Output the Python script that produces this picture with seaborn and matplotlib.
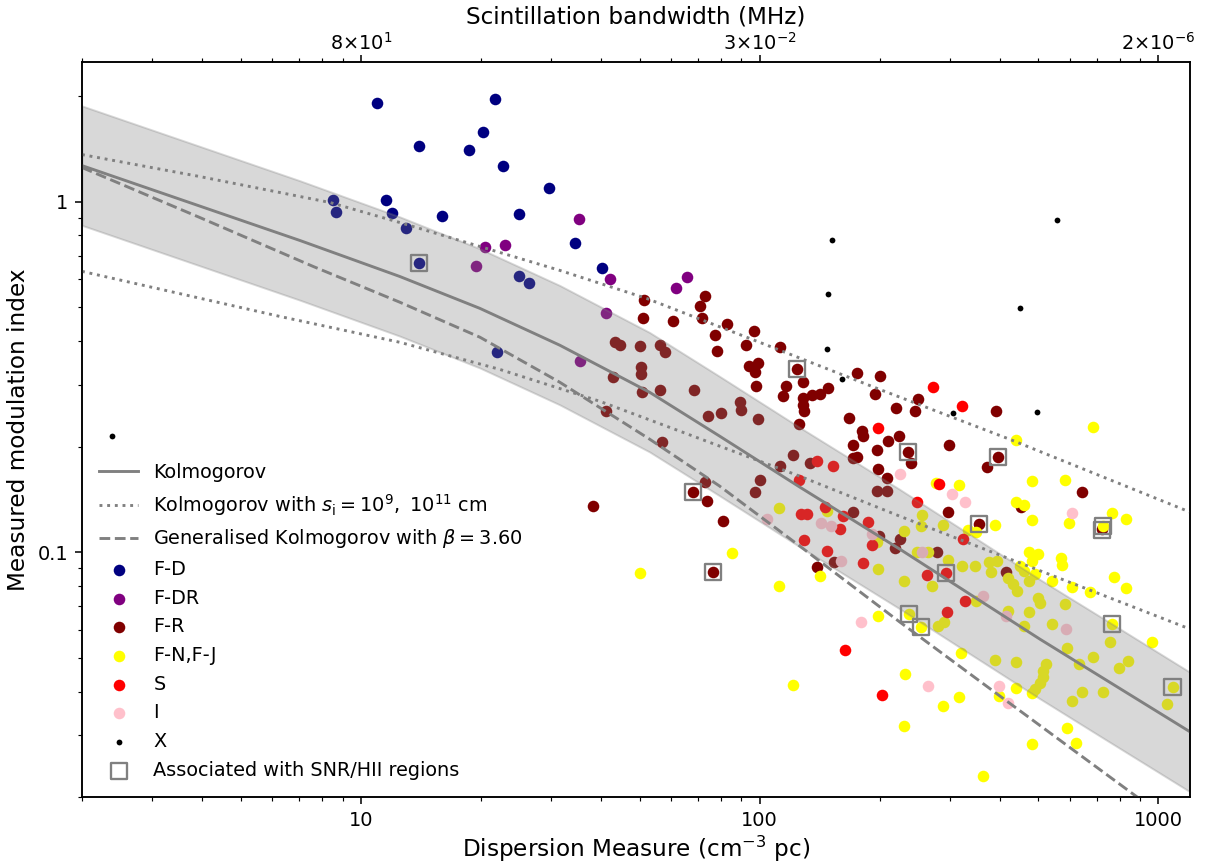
import numpy as np
import pandas as pd
import seaborn as sns
import matplotlib.pyplot as plt
from matplotlib.ticker import NullFormatter

# model curves
kol_dm = [2.0, 7.04, 12.53, 19.9, 31.56, 53.0, 79.4, 126.1, 224.4, 503.5, 711.8, 1200]
kol_m = [1.266, 0.774, 0.611, 0.4955, 0.389, 0.2856, 0.2141, 0.1532, 0.102, 0.0565, 0.0443, 0.0307]
band_hi = [1.874, 1.146, 0.904, 0.733, 0.576, 0.423, 0.317, 0.2267, 0.151, 0.0836, 0.0656, 0.0454]
band_lo = [0.855, 0.523, 0.413, 0.335, 0.263, 0.193, 0.1447, 0.1035, 0.0689, 0.0382, 0.0299, 0.0207]

si_hi_dm = [2.0, 3.95, 8.37, 12.53, 19.9, 31.56, 52.1, 100, 200, 423, 1200]
si_hi_m = [1.361, 1.178, 0.9935, 0.871, 0.744, 0.636, 0.529, 0.3966, 0.291, 0.2099, 0.130]
si_lo_dm = [2.0, 6.27, 12.53, 22.3, 39.7, 63.1, 126.1, 224.4, 1200]
si_lo_m = [0.632, 0.470, 0.3966, 0.332, 0.2693, 0.2212, 0.1646, 0.1266, 0.0603]

gen_dm = [2.0, 3.95, 7.59, 12.53, 19.9, 31.56, 53.0, 79.4, 126.1, 224.4, 399.6, 923]
gen_m = [1.25, 0.900, 0.653, 0.516, 0.410, 0.305, 0.2099, 0.1542, 0.104, 0.0632, 0.0389, 0.0193]

# pulsars by class
fd_dm = [8.51, 8.66, 10.97, 11.56, 11.96, 12.97, 13.99, 13.99, 15.97, 18.66,
         20.23, 21.68, 22.71, 24.9, 24.9, 26.38, 29.62, 34.4, 40.2, 21.93]
fd_m = [1.007, 0.936, 1.915, 1.007, 0.930, 0.838, 1.444, 0.666, 0.912, 1.398,
        1.582, 1.965, 1.266, 0.924, 0.615, 0.584, 1.096, 0.759, 0.648, 0.371]

fdr_dm = [19.43, 20.46, 22.96, 35.2, 42.1, 61.6, 65.6, 41.1, 35.4]
fdr_m = [0.653, 0.744, 0.749, 0.889, 0.603, 0.565, 0.611, 0.480, 0.350]

fr_dm = [51.2, 50.9, 60.6, 72.9, 70.8, 71.6, 82.7, 77.2, 96.7, 78.1,
         92.3, 112.3, 93.9, 98.9, 97.2, 123.9, 128.2, 97.8, 116.3, 114.3,
         128.2, 135.1, 141.5, 148.2, 128.2, 129.0, 175.2, 194.3, 200.0, 125.3,
         167.3, 180.3, 181.3, 171.2, 175.2, 171.2, 196.6, 197.7, 43.3, 44.6,
         50.1, 56.2, 57.8, 50.4, 50.4, 42.8, 50.7, 56.2, 68.4, 89.2,
         89.7, 79.9, 74.1, 98.9, 41.1, 56.8, 121.1, 133.5, 112.3, 100.1,
         97.2, 72.9, 68.0, 73.7, 38.2, 80.8, 76.3, 219.4, 244.8, 249.1,
         209.4, 223.2, 235.1, 239.2, 208.2, 196.6, 208.2, 171.2, 224.4, 218.0,
         198.9, 153.4, 139.0, 278.0, 297.8, 395.3, 370.9, 641.8, 296.2, 354.1,
         451.3, 414.0, 720.3, 390.7]
fr_m = [0.522, 0.464, 0.455, 0.536, 0.502, 0.464, 0.446, 0.415, 0.426, 0.374,
        0.389, 0.384, 0.339, 0.346, 0.326, 0.332, 0.305, 0.297, 0.297, 0.278,
        0.275, 0.280, 0.282, 0.293, 0.262, 0.252, 0.324, 0.282, 0.317, 0.232,
        0.241, 0.221, 0.214, 0.202, 0.187, 0.185, 0.195, 0.172, 0.397, 0.389,
        0.386, 0.389, 0.371, 0.337, 0.322, 0.315, 0.286, 0.289, 0.289, 0.268,
        0.254, 0.249, 0.244, 0.239, 0.252, 0.206, 0.189, 0.179, 0.176, 0.160,
        0.148, 0.158, 0.148, 0.140, 0.135, 0.123, 0.0877, 0.257, 0.252, 0.273,
        0.207, 0.214, 0.193, 0.179, 0.163, 0.149, 0.149, 0.130, 0.109, 0.103,
        0.111, 0.0937, 0.0907, 0.100, 0.202, 0.187, 0.175, 0.148, 0.130, 0.120,
        0.134, 0.0877, 0.116, 0.252]

fnj_dm = [438.6, 276.4, 315.5, 480.9, 581.8, 438.6, 459.2, 480.9, 595.3, 763.1,
          827.0, 388.4, 724.4, 332.4, 348.1, 472.7, 497.8, 568.5, 571.6, 480.9,
          771.9, 827.0, 605.8, 672.0, 539.8, 255.0, 253.5, 287.8, 229.8, 247.6,
          263.9, 296.2, 321.0, 346.1, 375.2, 392.9, 379.6, 448.7, 459.2, 472.7,
          489.3, 418.8, 431.0, 441.0, 229.8, 270.0, 348.1, 497.8, 503.6, 581.8,
          418.8, 472.7, 236.4, 253.5, 279.6, 289.4, 539.8, 459.2, 763.1, 231.1,
          319.2, 961.2, 754.2, 836.7, 794.3, 683.7, 630.6, 588.5, 388.4, 438.6,
          521.5, 512.4, 512.4, 503.6, 489.3, 480.9, 438.6, 397.5, 641.8, 724.4,
          605.8, 1085, 1048, 315.5, 287.8, 229.8, 588.5, 619.8, 480.9, 362.5,
          683.7, 111.9, 147.3, 85.1, 111.9, 141.5, 50.1, 196.6, 197.7, 197.7,
          121.1]
fnj_m = [0.2085, 0.1573, 0.1552, 0.1594, 0.1604, 0.1388, 0.1361, 0.1234, 0.121, 0.1291,
         0.1242, 0.1194, 0.1186, 0.1155, 0.114, 0.1, 0.0987, 0.0961, 0.0918, 0.0943,
         0.0849, 0.079, 0.0795, 0.0769, 0.0827, 0.1274, 0.1186, 0.1194, 0.1148, 0.1,
         0.1, 0.0949, 0.0912, 0.0912, 0.0937, 0.0943, 0.0877, 0.0912, 0.0883, 0.0827,
         0.0866, 0.0843, 0.0811, 0.0774, 0.0827, 0.08, 0.0725, 0.0739, 0.0716, 0.0711,
         0.0679, 0.0675, 0.0666, 0.0611, 0.0615, 0.0632, 0.0624, 0.0615, 0.0624, 0.0449,
         0.0516, 0.0554, 0.0554, 0.0489, 0.0467, 0.0502, 0.048, 0.0533, 0.0492, 0.0486,
         0.048, 0.0458, 0.044, 0.0423, 0.0407, 0.0397, 0.041, 0.0389, 0.0399, 0.0399,
         0.0376, 0.0412, 0.0369, 0.0386, 0.0364, 0.0319, 0.0315, 0.0286, 0.0284, 0.023,
         0.227, 0.1334, 0.1308, 0.0994, 0.08, 0.0854, 0.0872, 0.1068, 0.0895, 0.0657,
         0.0418]

s_dm = [271.6, 321.0, 197.7, 139.0, 152.5, 125.3, 247.6, 281.2, 145.6, 126.8,
        131.2, 161.5, 186.6, 158.7, 129.0, 147.3, 191.0, 181.3, 262.4, 322.9,
        292.7, 326.6, 294.4, 163.4, 202.3]
s_m = [0.295, 0.261, 0.226, 0.182, 0.176, 0.160, 0.139, 0.156, 0.134, 0.128,
       0.128, 0.127, 0.122, 0.116, 0.108, 0.101, 0.105, 0.093, 0.086, 0.109,
       0.0872, 0.0725, 0.0675, 0.0526, 0.0391]

i_dm = [224.4, 104.2, 142.3, 150.8, 159.7, 191.0, 255.0, 303.1, 326.6, 605.8,
        362.5, 414.0, 585.2, 179.3, 263.9, 397.5, 418.8]
i_m = [0.167, 0.124, 0.121, 0.119, 0.0943, 0.1125, 0.100, 0.146, 0.139, 0.129,
       0.0749, 0.0657, 0.0603, 0.0632, 0.0415, 0.0415, 0.0371]

x_dm = [2.38, 151.7, 148.2, 147.3, 160.6, 304.8, 495.1, 448.7, 555.5]
x_m = [0.214, 0.779, 0.543, 0.379, 0.311, 0.249, 0.251, 0.496, 0.883]

assoc_dm = [13.99, 123.9, 68.0, 76.3, 235.1, 395.3, 354.1, 720.3, 724.4, 292.7,
            236.4, 253.5, 763.1, 1085]
assoc_m = [0.666, 0.332, 0.148, 0.0877, 0.193, 0.187, 0.120, 0.1155, 0.1186, 0.0872,
           0.0666, 0.0611, 0.0624, 0.0412]

xticks = [10, 100, 1000]
xticklabels = ['10', '100', '1000']
yticks = [0.1, 1]
yticklabels = ['0.1', '1']
top_labels = [r'$8{\times}10^{1}$', r'$3{\times}10^{-2}$', r'$2{\times}10^{-6}$']

classes = [
    ('F-D', fd_dm, fd_m, 'navy', 36),
    ('F-DR', fdr_dm, fdr_m, 'purple', 36),
    ('F-R', fr_dm, fr_m, 'maroon', 36),
    ('F-N,F-J', fnj_dm, fnj_m, 'yellow', 36),
    ('S', s_dm, s_m, 'red', 36),
    ('I', i_dm, i_m, 'pink', 36),
    ('X', x_dm, x_m, 'black', 9),
]

fig = plt.figure(figsize=(8.712, 6.216), dpi=139)
ax = fig.add_axes([0.0677, 0.0775, 0.915, 0.8507])
ax.set_xscale('log')
ax.set_yscale('log')

for name, dm, m, col, size in classes:
    df = pd.DataFrame({'dm': dm, 'm': m})
    sns.scatterplot(data=df, x='dm', y='m', color=col, s=size, linewidth=0,
                    label=name, ax=ax, zorder=1)

ax.fill_between(kol_dm, band_lo, band_hi, color='grey', alpha=0.3, zorder=2.5)

sns.lineplot(x=kol_dm, y=kol_m, color='grey', lw=1.5, label='Kolmogorov',
             estimator=None, sort=False, ax=ax, zorder=3)
sns.lineplot(x=si_hi_dm, y=si_hi_m, color='grey', lw=1.5, ls=':',
             label=r'Kolmogorov with $s_\mathrm{i} = 10^9,\ 10^{11}$ cm',
             estimator=None, sort=False, ax=ax, zorder=3)
sns.lineplot(x=si_lo_dm, y=si_lo_m, color='grey', lw=1.5, ls=':',
             estimator=None, sort=False, ax=ax, zorder=3)
sns.lineplot(x=gen_dm, y=gen_m, color='grey', lw=1.5, ls='--',
             label=r'Generalised Kolmogorov with $\beta = 3.60$',
             estimator=None, sort=False, ax=ax, zorder=3)

ax.scatter(assoc_dm, assoc_m, marker='s', s=70, facecolors='none',
           edgecolors='grey', linewidths=1.2, zorder=4,
           label='Associated with SNR/HII regions')

ax.set_xlim(2, 1200)
ax.set_ylim(0.02, 2.5)
ax.set_xticks(xticks)
ax.set_xticklabels(xticklabels)
ax.set_yticks(yticks)
ax.set_yticklabels(yticklabels)
ax.xaxis.set_minor_formatter(NullFormatter())
ax.yaxis.set_minor_formatter(NullFormatter())
ax.tick_params(labelsize=10)
ax.set_xlabel(r'Dispersion Measure (cm$^{-3}$ pc)', fontsize=12, labelpad=2)
ax.set_ylabel('Measured modulation index', fontsize=12)

ax2 = ax.twiny()
ax2.set_xscale('log')
ax2.set_xlim(ax.get_xlim())
ax2.set_xticks(xticks)
ax2.set_xticklabels(top_labels)
ax2.xaxis.set_minor_formatter(NullFormatter())
ax2.tick_params(labelsize=10, pad=1)
ax2.set_xlabel('Scintillation bandwidth (MHz)', fontsize=12, labelpad=4)

order = ['Kolmogorov', r'Kolmogorov with $s_\mathrm{i} = 10^9,\ 10^{11}$ cm',
         r'Generalised Kolmogorov with $\beta = 3.60$',
         'F-D', 'F-DR', 'F-R', 'F-N,F-J', 'S', 'I', 'X',
         'Associated with SNR/HII regions']
handles, labels = ax.get_legend_handles_labels()
lookup = dict(zip(labels, handles))
ax.legend([lookup[l] for l in order], order, loc='lower left', frameon=False,
          fontsize=10)

fig.savefig('out.png', dpi=139)
